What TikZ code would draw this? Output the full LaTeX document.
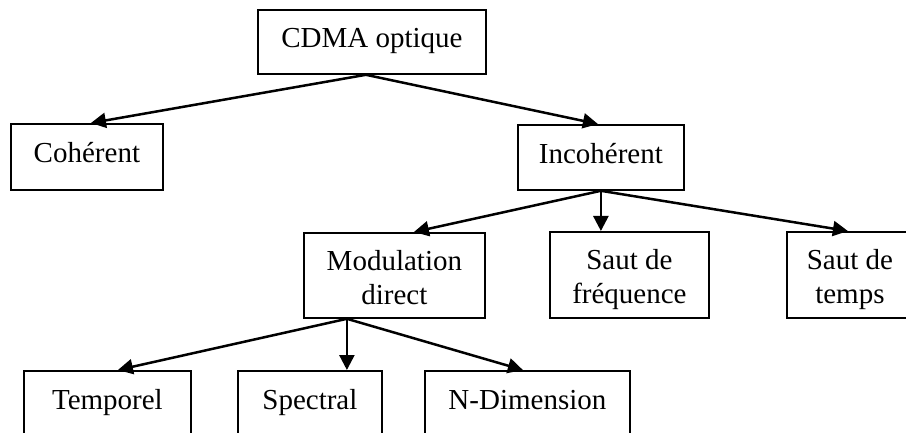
\documentclass[tikz,border=0pt]{standalone}
\usepackage{fontspec}
\setmainfont{Liberation Serif}
\usetikzlibrary{arrows.meta}

\tikzset{
  box/.style={draw, line width=1.8pt, anchor=north west, inner sep=0pt,
    font=\fontsize{29}{34}\selectfont, align=center},
  onebox/.style={box, text height=19pt, text depth=7pt},
  twobox/.style={box, text height=65pt, text depth=7pt},
  link/.style={line width=2.5pt, -{Triangle[length=15pt,width=15pt]}}
}

\begin{document}
\begin{tikzpicture}[x=1pt, y=-1pt]
  \useasboundingbox (0,0) rectangle (906,433);
  \clip (0,0) rectangle (906,433);
  \fill[white] (0,0) rectangle (906,433);

  % root
  \node[onebox, minimum width=228pt, minimum height=64pt] (cdma) at (257,9) {CDMA optique};

  % first level
  \node[onebox, minimum width=152pt, minimum height=66pt] (coh) at (10,123) {Cohérent};
  \node[onebox, minimum width=166pt, minimum height=65pt] (incoh) at (517,124) {Incohérent};

  % second level
  \node[twobox, minimum width=181pt, minimum height=85pt] (mod) at (303,232) {Modulation\\direct};
  \node[twobox, minimum width=159pt, minimum height=86pt] (freq) at (549,231) {Saut de\\fréquence};
  \node[twobox, minimum width=126pt, minimum height=86pt] (temps) at (786,231) {Saut de\\temps};

  % third level
  \node[onebox, minimum width=167pt, minimum height=66pt] (tempo) at (23,370) {Temporel};
  \node[onebox, minimum width=144pt, minimum height=66pt] (spec) at (237,370) {Spectral};
  \node[onebox, minimum width=205pt, minimum height=66pt] (ndim) at (424,370) {N-Dimension};

  % connectors
  \draw[link] ([xshift=-6pt]cdma.south) -- ([xshift=4pt]coh.north);
  \draw[link] ([xshift=-6pt]cdma.south) -- ([xshift=-3pt]incoh.north);

  \draw[link] (incoh.south) -- ([xshift=19.5pt]mod.north);
  \draw[link] (incoh.south) -- ([xshift=-28.5pt]freq.north);
  \draw[link] (incoh.south) -- ([xshift=-2pt]temps.north);

  \draw[link] ([xshift=-47.5pt]mod.south) -- ([xshift=10.5pt]tempo.north);
  \draw[link] ([xshift=-47.5pt]mod.south) -- ([xshift=37pt]spec.north);
  \draw[link] ([xshift=-47.5pt]mod.south) -- ([xshift=-4.5pt]ndim.north);
\end{tikzpicture}
\end{document}
